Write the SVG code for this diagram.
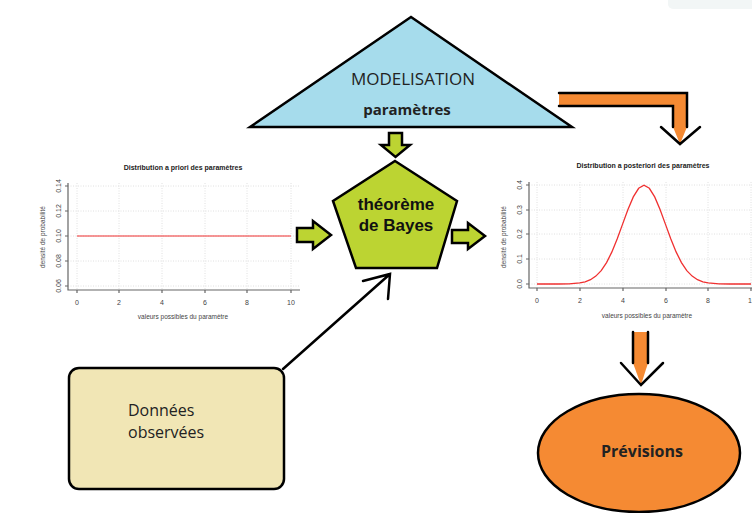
<svg xmlns="http://www.w3.org/2000/svg" width="752" height="513" viewBox="0 0 752 513">
<style>
.plt-title{font-family:"Liberation Sans",Arial,sans-serif;font-size:7px;font-weight:bold;fill:#222;text-anchor:middle}
.tick{font-family:"Liberation Sans",Arial,sans-serif;font-size:7px;fill:#444;text-anchor:middle}
.axlab{font-family:"Liberation Sans",Arial,sans-serif;font-size:6.5px;fill:#444;text-anchor:middle}
.grid{stroke:#d8d8d8;stroke-width:0.8;stroke-dasharray:1 1.5;fill:none}
.axis{stroke:#666;stroke-width:1.2;fill:none}
.green{fill:#BCD432;stroke:#000;stroke-width:2.5;stroke-linejoin:miter}
.orange{fill:#F58A33}
.blk{stroke:#000;stroke-width:2.5;fill:none;stroke-linecap:round}
.lbl{font-family:"Open Sans","Noto Sans",sans-serif;fill:#222}
</style>
<rect width="752" height="513" fill="#fff"/>
<rect x="668" y="-6" width="90" height="15" rx="5" fill="#F2F6F6"/>

<g id="prior-plot">
  <text class="plt-title" x="183" y="170">Distribution a priori des paramètres</text>
  <g class="grid">
    <path d="M77 183V290M119 183V290M162 183V290M205 183V290M247 183V290M291 183V290"/>
    <path d="M68 186H300M68 211H300M68 236H300M68 261H300M68 286H300"/>
  </g>
  <path class="axis" d="M68 183V290H300"/>
  <path class="axis" d="M65 186H68M65 211H68M65 236H68M65 261H68M65 286H68M77 290V293M119 290V293M162 290V293M205 290V293M247 290V293M291 290V293"/>
  <line x1="77" y1="236" x2="291" y2="236" stroke="#f03030" stroke-width="1"/>
  <g class="tick">
    <text x="77" y="305">0</text><text x="119" y="305">2</text><text x="162" y="305">4</text><text x="205" y="305">6</text><text x="247" y="305">8</text><text x="291" y="305">10</text>
    <text transform="translate(61,186) rotate(-90)">0.14</text>
    <text transform="translate(61,211) rotate(-90)">0.12</text>
    <text transform="translate(61,236) rotate(-90)">0.10</text>
    <text transform="translate(61,261) rotate(-90)">0.08</text>
    <text transform="translate(61,286) rotate(-90)">0.06</text>
  </g>
  <text class="axlab" x="183" y="319">valeurs possibles du paramètre</text>
  <text class="axlab" transform="translate(45,237) rotate(-90)">densité de probabilité</text>
</g>

<g id="posterior-plot">
  <text class="plt-title" x="643" y="168">Distribution a posteriori des paramètres</text>
  <g class="grid">
    <path d="M537 182V288M580 182V288M623 182V288M666 182V288M708 182V288M751 182V288"/>
    <path d="M529 185H752M529 210H752M529 234H752M529 259H752M529 284H752"/>
  </g>
  <path class="axis" d="M529 182V288H752"/>
  <path class="axis" d="M526 185H529M526 210H529M526 234H529M526 259H529M526 284H529M537 288V291M580 288V291M623 288V291M666 288V291M708 288V291M751 288V291"/>
  <polyline fill="none" stroke="#f03030" stroke-width="1.3" points="537,284 558.4,284 569.1,283.8 579.8,282.9 585.15,281.8 590.5,279.7 595.85,276.1 601.2,270.6 606.55,262.6 611.9,251.9 617.25,238.8 622.6,224.1 627.95,209.5 633.3,196.9 638.65,188.3 644,185.3 649.35,188.3 654.7,196.9 660.05,209.5 665.4,224.1 670.75,238.8 676.1,251.9 681.45,262.6 686.8,270.6 692.15,276.1 697.5,279.7 702.85,281.8 708.2,282.9 718.9,283.8 729.6,284 751,284"/>
  <g class="tick">
    <text x="537" y="303">0</text><text x="580" y="303">2</text><text x="623" y="303">4</text><text x="666" y="303">6</text><text x="708" y="303">8</text><text x="752" y="303">10</text>
    <text transform="translate(522,185) rotate(-90)">0.4</text>
    <text transform="translate(522,210) rotate(-90)">0.3</text>
    <text transform="translate(522,234) rotate(-90)">0.2</text>
    <text transform="translate(522,259) rotate(-90)">0.1</text>
    <text transform="translate(522,284) rotate(-90)">0.0</text>
  </g>
  <text class="axlab" x="647" y="318">valeurs possibles du paramètre</text>
  <text class="axlab" transform="translate(506,237) rotate(-90)">densité de probabilité</text>
</g>

<g id="modelisation">
  <polygon points="411,17 250,127 572,127" fill="#A6DCEC" stroke="#000" stroke-width="2.5" stroke-linejoin="miter"/>
  <text class="lbl" x="413" y="85" font-size="17" text-anchor="middle">MODELISATION</text>
  <text class="lbl" x="407" y="115" font-size="15" font-weight="bold" text-anchor="middle" fill="#111">paramètres</text>
</g>

<g id="bayes">
  <polygon class="green" points="395,161 457,201 437,268 356,268 333,201"/>
  <text x="396" y="210" font-family="'Liberation Sans',Arial,sans-serif" font-size="17" font-weight="bold" text-anchor="middle" fill="#111">théorème</text>
  <text x="396" y="231" font-family="'Liberation Sans',Arial,sans-serif" font-size="17" font-weight="bold" text-anchor="middle" fill="#111">de Bayes</text>
</g>

<g id="donnees">
  <rect x="69" y="368" width="215" height="121" rx="10" fill="#F1E6B5" stroke="#000" stroke-width="2.5"/>
  <text class="lbl" x="128" y="416" font-size="16">Données</text>
  <text class="lbl" x="128" y="438" font-size="16">observées</text>
</g>

<g id="previsions">
  <ellipse cx="639" cy="453" rx="101" ry="59" fill="#F58A33" stroke="#000" stroke-width="2.5"/>
  <text class="lbl" x="642" y="457" font-size="16" font-weight="bold" text-anchor="middle" fill="#111">Prévisions</text>
</g>

<g id="connectors">
  <polygon class="green" points="389,133 402,133 402,145 410,145 395.5,157 381,145 389,145"/>
  <polygon class="green" points="297,228 313,228 313,221 331,235 313,249 313,242 297,242"/>
  <polygon class="green" points="452,230 468,230 468,223 485,236 468,249 468,243 452,243"/>
  <polygon class="orange" points="559,93 687,93 687,127 680,144 673,127 673,106 559,106"/>
  <path class="blk" d="M559 93H687V127M559 106H673V127M661 127L680 144L700 127"/>
  <polygon class="orange" points="633,332 648,332 648,363 641,385 633,363"/>
  <path class="blk" d="M633 332V363M648 332V363M621 363L641 385L663 363"/>
  <path class="blk" d="M283 369L390 274M363 281L390 274L388 299"/>
</g>
</svg>
